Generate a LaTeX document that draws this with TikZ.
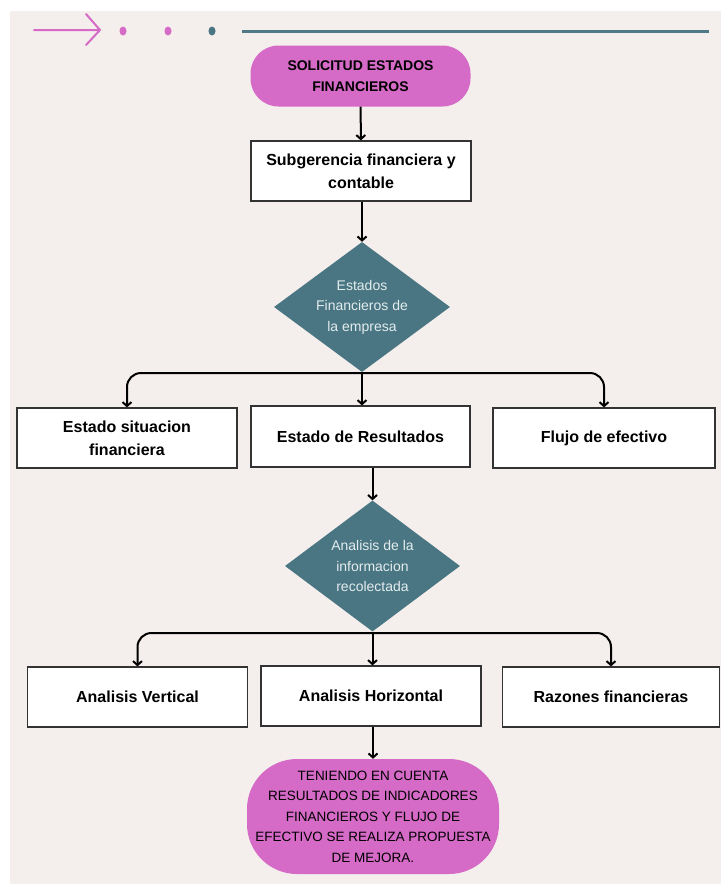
\documentclass[tikz,border=0pt]{standalone}
\usepackage{fontspec}
\setmainfont{Liberation Sans}
\usetikzlibrary{arrows.meta,positioning,shapes.geometric}
\definecolor{pinkc}{HTML}{D56AC7}
\definecolor{tealc}{HTML}{497682}
\definecolor{linec}{HTML}{4F7A85}
\definecolor{bgc}{HTML}{F4EEEC}
\definecolor{dtxt}{HTML}{E4ECEE}
\begin{document}
\begin{tikzpicture}[x=1pt, y=-1pt,
box node/.style={rectangle,draw=black!80,line width=1.2pt,fill=white,minimum width=220pt,minimum height=60pt,inner sep=2pt,align=center,font=\fontsize{16}{23}\selectfont\bfseries},
term node/.style={rectangle,fill=pinkc,align=center,inner sep=0pt},
decision node/.style={diamond,fill=tealc,minimum width=176pt,minimum height=130pt,inner sep=0pt},
dtext/.style={align=center,text=dtxt,font=\fontsize{14}{20.5}\selectfont},
arrow/.style={-{Straight Barb[length=4pt,width=9pt]},line width=2pt}]
\useasboundingbox (0,0) rectangle (721,884);
\fill[bgc] (10,11) rectangle (721,884);
% top strip
\draw[pinkc,line width=2pt,line cap=round,line join=round] (34,30) -- (100,30) (86,14) -- (100,30) -- (86,45);
\fill[pinkc] (123,31) ellipse [x radius=3.5pt,y radius=4.5pt];
\fill[pinkc] (168,31) ellipse [x radius=3.5pt,y radius=4.5pt];
\fill[tealc] (212,31) ellipse [x radius=3.5pt,y radius=4.5pt];
\draw[linec,line width=3pt] (242,31) -- (709,31);
\begin{scope}
\node[term node,rounded corners=28pt,minimum width=220pt,minimum height=61pt,font=\fontsize{14}{20.6}\selectfont\bfseries] (vS) at (360.5,76) {SOLICITUD ESTADOS\\FINANCIEROS};
\node[box node] (vG) at (361,171) {Subgerencia financiera y\\contable};
\node[decision node] (vD1) at (362,307) {};
\node[dtext] at (vD1) {Estados\\Financieros de\\la empresa};
\node[box node] (vE1) at (127,438) {Estado situacion\\financiera};
\node[box node,minimum width=219pt,minimum height=61pt] (vE2) at (360.5,436.5) {Estado de Resultados};
\node[box node,minimum width=222pt] (vE3) at (604,438) {Flujo de efectivo};
\node[decision node,minimum width=175pt,minimum height=131pt] (vD2) at (372.5,566) {};
\node[dtext] at (vD2) {Analisis de la\\informacion\\recolectada};
\node[box node] (vA1) at (137.5,697) {Analisis Vertical};
\node[box node] (vA2) at (371,696) {Analisis Horizontal};
\node[box node,minimum width=217pt] (vA3) at (611,697) {Razones financieras};
\node[term node,rounded corners=50pt,minimum width=252pt,minimum height=115pt,font=\fontsize{13.5}{20.5}\selectfont] (vF) at (373,816.5) {TENIENDO EN CUENTA\\RESULTADOS DE INDICADORES\\FINANCIEROS Y FLUJO DE\\EFECTIVO SE REALIZA PROPUESTA\\DE MEJORA.};
\coordinate (j1) at (362,373);
\coordinate (j2) at (372.5,633);
\end{scope}
\begin{scope}
\draw[arrow] (vS) edge (vG);
\draw[arrow] (vG.south -| vD1.north) -- (vD1.north);
\draw[arrow] (vD1.south) -- (vE2.north -| vD1.south);
\draw[arrow,rounded corners=14pt] (j1) -| (vE1.north);
\draw[arrow,rounded corners=14pt] (j1) -| (vE3.north);
\draw[arrow] (vE2.south -| vD2.north) -- (vD2.north);
\draw[arrow] (vD2.south) -- (vA2.north -| vD2.south);
\draw[arrow,rounded corners=14pt] (j2) -| (vA1.north);
\draw[arrow,rounded corners=14pt] (j2) -| (vA3.north);
\draw[arrow] (vA2.south -| vF.north) -- (vF.north);
\end{scope}
\end{tikzpicture}
\end{document}
